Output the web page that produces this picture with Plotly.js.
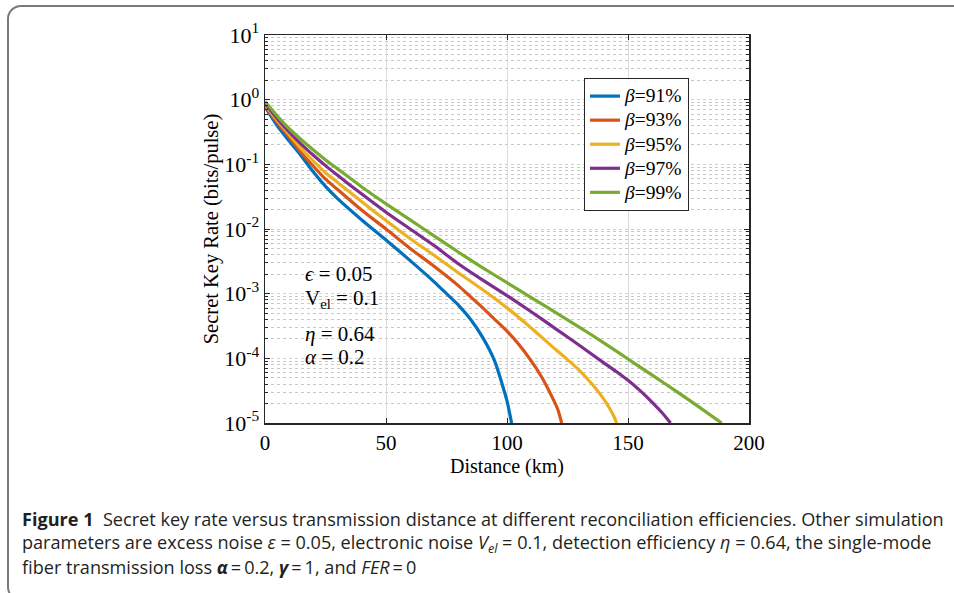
<!DOCTYPE html>
<html>
<head>
<meta charset="utf-8">
<script src="https://cdn.plot.ly/plotly-3.0.1.min.js"></script>
<style>
  html, body { margin: 0; padding: 0; background: #ffffff; overflow: hidden; }
  #frame { position: absolute; left: 7px; top: 5px; width: 1000px; height: 596px;
           border: 2px solid #7a7a7a; border-radius: 14px; box-sizing: border-box; }
  #chart { position: absolute; left: 0; top: 0; width: 954px; height: 593px; }
</style>
</head>
<body>
<div id="frame"></div>
<div id="chart"></div>
<script>
// Distance (km) and secret key rate (bits/pulse)
const dist91 = [0, 5, 10, 15, 20, 25, 30, 40, 50, 60, 70, 75, 80, 85, 90, 95, 98, 100, 101.9];
const skr91  = [0.776, 0.398, 0.229, 0.135, 0.0759, 0.0457, 0.0295, 0.0138, 0.00676, 0.00324, 0.00151, 0.00100, 6.61e-4, 3.98e-4, 2.09e-4, 8.91e-5, 3.98e-5, 2.19e-5, 1.0e-5];

const dist93 = [0, 5, 10, 15, 20, 25, 30, 40, 50, 60, 70, 80, 85, 90, 95, 100, 105, 110, 114, 118, 121, 122.6];
const skr93  = [0.813, 0.447, 0.263, 0.151, 0.0933, 0.0589, 0.0407, 0.0195, 0.0100, 0.00501, 0.00263, 0.00132, 8.91e-4, 6.03e-4, 3.98e-4, 2.63e-4, 1.62e-4, 9.12e-5, 5.37e-5, 2.82e-5, 1.62e-5, 1.0e-5];

const dist95 = [0, 5, 10, 15, 20, 25, 30, 40, 50, 60, 70, 80, 90, 100, 110, 120, 125, 130, 134, 137, 140, 142.5, 144.2, 145.3];
const skr95  = [0.832, 0.479, 0.288, 0.174, 0.112, 0.0741, 0.0525, 0.0263, 0.0135, 0.00708, 0.00389, 0.00209, 0.00115, 6.03e-4, 2.95e-4, 1.38e-4, 9.55e-5, 6.46e-5, 4.47e-5, 3.31e-5, 2.34e-5, 1.66e-5, 1.26e-5, 1.0e-5];

const dist97 = [0, 5, 10, 15, 20, 25, 30, 40, 50, 60, 70, 80, 90, 100, 110, 120, 130, 140, 145, 150, 155, 160, 164, 167.6];
const skr97  = [0.871, 0.513, 0.316, 0.204, 0.138, 0.0955, 0.0676, 0.0347, 0.0182, 0.0100, 0.00550, 0.00288, 0.00162, 9.33e-4, 5.25e-4, 2.88e-4, 1.58e-4, 8.51e-5, 6.31e-5, 4.57e-5, 3.16e-5, 2.09e-5, 1.45e-5, 1.0e-5];

const dist99 = [0, 5, 10, 15, 20, 25, 30, 40, 50, 60, 70, 80, 90, 100, 110, 120, 130, 140, 150, 160, 170, 180, 188.7];
const skr99  = [0.933, 0.562, 0.355, 0.240, 0.166, 0.117, 0.0851, 0.0447, 0.0245, 0.0138, 0.00776, 0.00437, 0.00251, 0.00148, 8.71e-4, 5.13e-4, 3.02e-4, 1.74e-4, 9.77e-5, 5.50e-5, 3.09e-5, 1.70e-5, 1.0e-5];

const seriesNames = ['β=91%', 'β=93%', 'β=95%', 'β=97%', 'β=99%'];
const seriesColors = ['#0072BD', '#D95319', '#EDB120', '#7E2F8E', '#77AC30'];

const yTickVals = [1e-5, 1e-4, 1e-3, 1e-2, 1e-1, 1e0, 1e1];
const yTickText = ['10<sup>-5</sup>', '10<sup>-4</sup>', '10<sup>-3</sup>', '10<sup>-2</sup>', '10<sup>-1</sup>', '10<sup>0</sup>', '10<sup>1</sup>'];
const xTickVals = [0, 50, 100, 150, 200];

const paramLines = ['<i>ϵ</i> = 0.05', 'V<sub>el</sub> = 0.1', '<i>η</i> = 0.64', '<i>α</i> = 0.2'];

const captionLines = [
  '<b>Figure 1</b>  Secret key rate versus transmission distance at different reconciliation efficiencies. Other simulation',
  'parameters are excess noise <i>ε</i> = 0.05, electronic noise <i>V<sub>el</sub></i> = 0.1, detection efficiency <i>η</i> = 0.64, the single-mode',
  'fiber transmission loss <b><i>α</i></b>\u2009=\u20090.2, <b><i>γ</i></b>\u2009=\u20091, and <i>FER</i>\u2009=\u20090'
];

const xs = [dist91, dist93, dist95, dist97, dist99];
const ys = [skr91, skr93, skr95, skr97, skr99];

const serif = 'Liberation Serif, Times New Roman, serif';
const traces = xs.map((x, i) => ({
  x: x, y: ys[i], type: 'scatter', mode: 'lines',
  name: '<span style="font-size:19.5px"><i>' + seriesNames[i].slice(0, 1) + '</i>' + seriesNames[i].slice(1) + '</span>',
  line: { color: seriesColors[i], width: 3.2, shape: 'spline', smoothing: 0.6 }
}));

const captionFont = 'Open Sans, DejaVu Sans, sans-serif';
const paramY = [0.384, 0.32, 0.23, 0.17];
const captionY = [-0.248, -0.310, -0.372];

const annotations = paramLines.map((t, i) => ({
  xref: 'paper', yref: 'paper', x: 0.078, y: paramY[i], xanchor: 'left', yanchor: 'middle',
  text: t, showarrow: false, font: { family: serif, size: 21, color: '#000' }
})).concat(captionLines.map((t, i) => ({
  xref: 'paper', yref: 'paper', x: -0.507, y: captionY[i], xanchor: 'left', yanchor: 'middle',
  text: t, showarrow: false, font: { family: captionFont, size: 18.1, color: '#231f20' }
})));

const layout = {
  width: 954, height: 593,
  margin: { l: 265, r: 205, t: 35, b: 170 },
  paper_bgcolor: 'rgba(0,0,0,0)', plot_bgcolor: '#ffffff',
  font: { family: serif, color: '#000', size: 20 },
  showlegend: true,
  legend: {
    x: 0.659, y: 0.889, xanchor: 'left', yanchor: 'top',
    bgcolor: '#ffffff', bordercolor: '#262626', borderwidth: 1,
    font: { family: serif, size: 16.2, color: '#000' },
    tracegroupgap: 0, itemwidth: 30
  },
  xaxis: {
    range: [0, 200], tickmode: 'array', tickvals: xTickVals, ticktext: xTickVals.map(String),
    ticks: 'inside', ticklen: 5, tickcolor: '#262626', tickwidth: 1,
    showline: true, linecolor: '#262626', linewidth: 1.5, mirror: 'allticks',
    showgrid: true, gridcolor: '#dcdcdc', gridwidth: 1, zeroline: false,
    tickfont: { family: serif, size: 21, color: '#000' },
    title: { text: 'Distance (km)', font: { family: serif, size: 20, color: '#000' }, standoff: 4 }
  },
  yaxis: {
    type: 'log', range: [-5, 1], tickmode: 'array', tickvals: yTickVals, ticktext: yTickText,
    ticks: 'inside', ticklen: 5, tickcolor: '#262626', tickwidth: 1,
    showline: true, linecolor: '#262626', linewidth: 1.5, mirror: 'allticks',
    showgrid: true, gridcolor: '#d0d0d0', gridwidth: 1, griddash: 'dot', zeroline: false,
    minor: { ticks: 'inside', ticklen: 3, tickcolor: '#262626', showgrid: true, gridcolor: '#c8c8c8', griddash: 'dot', gridwidth: 1, dtick: 'D1' },
    tickfont: { family: serif, size: 22, color: '#000' },
    title: { text: 'Secret Key Rate (bits/pulse)', font: { family: serif, size: 20.5, color: '#000' }, standoff: 0 }
  },
  annotations: annotations
};

Plotly.newPlot('chart', traces, layout, { displayModeBar: false, staticPlot: true });
</script>
</body>
</html>
